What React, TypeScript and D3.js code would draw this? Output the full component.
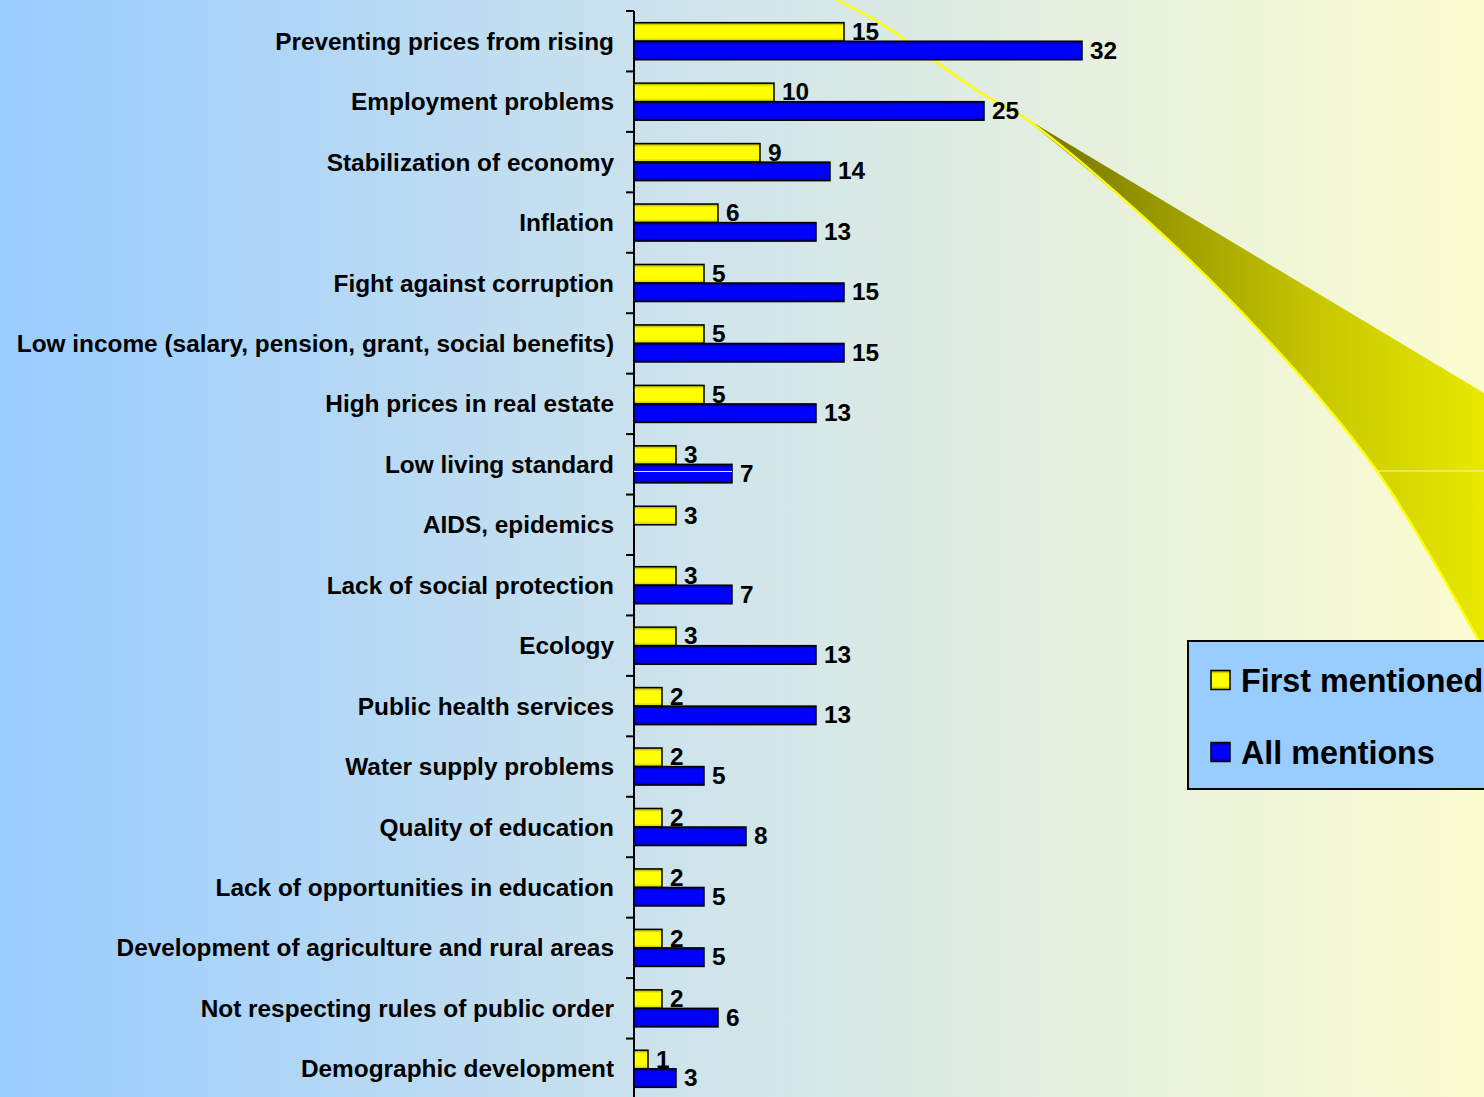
import React from "react";
import * as d3 from "d3";

const categories = [
  "Preventing prices from rising",
  "Employment problems",
  "Stabilization of economy",
  "Inflation",
  "Fight against corruption",
  "Low income (salary, pension, grant, social benefits)",
  "High prices in real estate",
  "Low living standard",
  "AIDS, epidemics",
  "Lack of social protection",
  "Ecology",
  "Public health services",
  "Water supply problems",
  "Quality of education",
  "Lack of opportunities in education",
  "Development of agriculture and rural areas",
  "Not respecting rules of public order",
  "Demographic development",
];

const firstMentioned = [15, 10, 9, 6, 5, 5, 5, 3, 3, 3, 3, 2, 2, 2, 2, 2, 2, 1];
const allMentions: (number | null)[] = [32, 25, 14, 13, 15, 15, 13, 7, null, 7, 13, 13, 5, 8, 5, 5, 6, 3];

const seriesNames = ["First mentioned", "All mentions"];

// decorative callout curve (not data)
const calloutCurve: [number, number][] = [
  [837, 0], [880, 23], [984, 95], [1022, 116], [1150, 223], [1265, 337], [1377, 471], [1479, 641],
];

const W = 1484;
const H = 1097;
const FONT = "'Liberation Sans', Arial, Helvetica, sans-serif";

export default function App() {
  const x = d3.scaleLinear().domain([0, 32]).range([634, 1082]);
  const y = d3.scaleBand<string>().domain(categories).range([11, 1099]).paddingInner(0).paddingOuter(0);
  const sub = d3.scaleBand<string>().domain(["first", "all"]).range([0, y.bandwidth()]).paddingInner(0).paddingOuter(0.63);

  const lineGen = d3.line<[number, number]>().curve(d3.curveCatmullRom.alpha(0.5));
  const fullCurve = lineGen(calloutCurve) || "";
  const tipIdx = 3;
  const tip = calloutCurve[tipIdx];
  const lower = calloutCurve.slice(tipIdx).slice().reverse();
  const lowerPath = (lineGen(lower) || "").replace(/^M/, "L");
  const wedgePath = `M${tip[0]},${tip[1]}L${W},393L${W},645L${lower[0][0]},${lower[0][1]}${lowerPath}Z`;

  const ticks = categories.map((c) => y(c) as number).concat([y.range()[1]]);

  const bars: { key: string; cat: string; v: number; s: string }[] = [];
  categories.forEach((c, i) => {
    bars.push({ key: c + "f", cat: c, v: firstMentioned[i], s: "first" });
    const a = allMentions[i];
    if (a != null) bars.push({ key: c + "a", cat: c, v: a, s: "all" });
  });

  return (
    <svg width={W} height={H} style={{ position: "absolute", left: 0, top: 0, display: "block" }} fontFamily={FONT}>
      <defs>
        <linearGradient id="bg" x1="0" y1="0" x2="1" y2="0">
          <stop offset="0%" stopColor="#99ccff" />
          <stop offset="45%" stopColor="#cde3ec" />
          <stop offset="100%" stopColor="#fcfcd0" />
        </linearGradient>
        <linearGradient id="gy" x1="0" y1="0" x2="0" y2="1">
          <stop offset="0%" stopColor="#9a9a00" />
          <stop offset="18%" stopColor="#ffff00" />
          <stop offset="80%" stopColor="#ffff00" />
          <stop offset="100%" stopColor="#c4c400" />
        </linearGradient>
        <linearGradient id="gb" x1="0" y1="0" x2="0" y2="1">
          <stop offset="0%" stopColor="#00006a" />
          <stop offset="18%" stopColor="#0000ff" />
          <stop offset="80%" stopColor="#0000ff" />
          <stop offset="100%" stopColor="#0000a8" />
        </linearGradient>
        <linearGradient id="wedge" gradientUnits="userSpaceOnUse" x1="1022" y1="0" x2={W} y2="0">
          <stop offset="0%" stopColor="#707000" />
          <stop offset="30%" stopColor="#999900" />
          <stop offset="65%" stopColor="#c8c800" />
          <stop offset="100%" stopColor="#e8e800" />
        </linearGradient>
      </defs>
      <rect x={0} y={0} width={W} height={H} fill="url(#bg)" />

      {/* decorative callout */}
      <path d={wedgePath} fill="url(#wedge)" />
      <line x1={1377} x2={W} y1={471} y2={471} stroke="#f4f4c8" strokeWidth={1} />
      <path d={fullCurve} fill="none" stroke="#ffff00" strokeWidth={2.5} />

      {/* axis */}
      <line x1={x(0)} x2={x(0)} y1={y.range()[0]} y2={y.range()[1]} stroke="#000" strokeWidth={2} />
      {ticks.map((t, i) => (
        <line key={i} x1={x(0) - 8} x2={x(0)} y1={t} y2={t} stroke="#000" strokeWidth={2} />
      ))}

      {/* category labels */}
      {categories.map((c) => (
        <text
          key={c}
          x={x(0) - 20}
          y={(y(c) as number) + y.bandwidth() / 2}
          dy="0.35em"
          textAnchor="end"
          fontSize={24.4}
          fontWeight="bold"
          fill="#000"
        >
          {c}
        </text>
      ))}

      {/* bars */}
      {bars.map((b) => {
        const by = (y(b.cat) as number) + (sub(b.s) as number);
        return (
          <rect
            key={b.key}
            x={x(0)}
            y={by}
            width={x(b.v) - x(0)}
            height={sub.bandwidth()}
            fill={b.s === "first" ? "url(#gy)" : "url(#gb)"}
            stroke="#000"
            strokeWidth={1.5}
          />
        );
      })}
      <line x1={x(0)} x2={x(7)} y1={471.5} y2={471.5} stroke="#ffffff" strokeWidth={1} opacity={0.9} />

      {/* value labels */}
      {bars.map((b) => {
        const by = (y(b.cat) as number) + (sub(b.s) as number) + sub.bandwidth() / 2;
        return (
          <text key={b.key + "t"} x={x(b.v) + 8} y={by - 0.5} dy="0.35em" fontSize={24.4} fontWeight="bold" fill="#000">
            {b.v}
          </text>
        );
      })}

      {/* legend */}
      <rect x={1188} y={641} width={310} height={148} fill="#99ccff" stroke="#000" strokeWidth={2} />
      {seriesNames.map((n, i) => {
        const cy = 680 + i * 72;
        return (
          <g key={n}>
            <rect x={1211} y={cy - 9.5} width={19} height={19} fill={i === 0 ? "url(#gy)" : "url(#gb)"} stroke="#000" strokeWidth={1.5} />
            <text x={1241} y={cy} dy="0.36em" fontSize={32.3} fontWeight="bold" fill="#000">
              {n}
            </text>
          </g>
        );
      })}
    </svg>
  );
}
